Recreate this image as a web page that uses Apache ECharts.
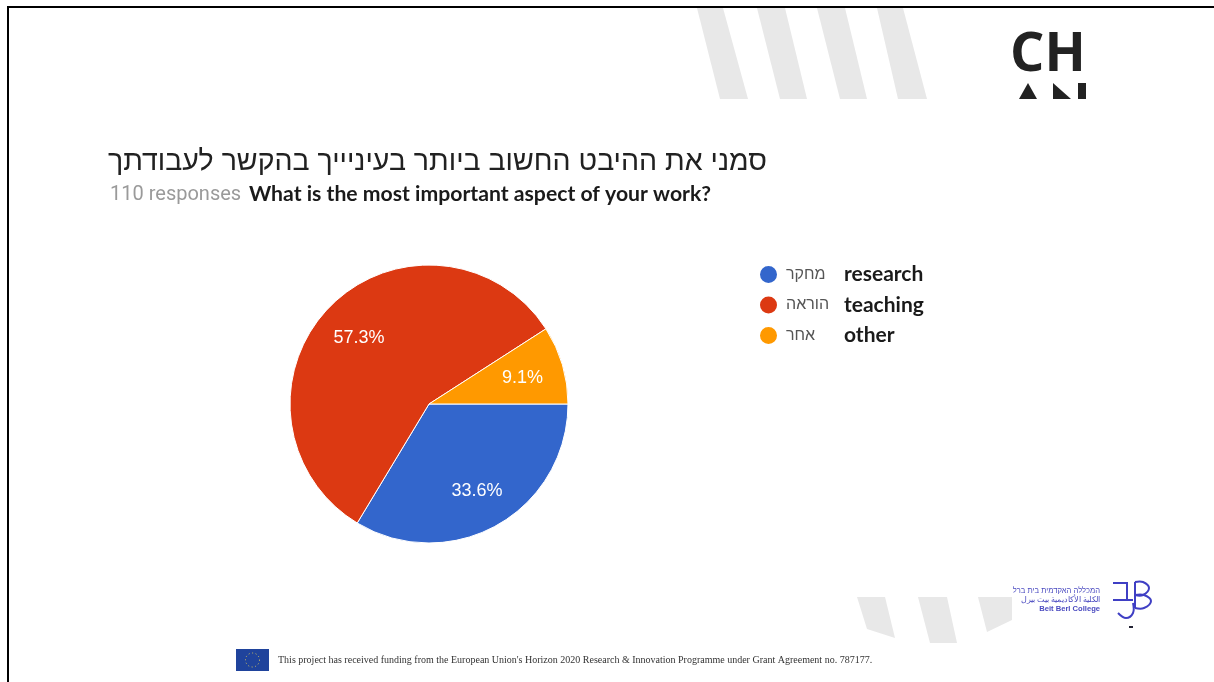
<!DOCTYPE html>
<html>
<head>
<meta charset="utf-8">
<style>html,body{margin:0;padding:0;background:#fff}#c{width:1214px;height:682px}</style>
<script src="https://cdn.jsdelivr.net/npm/echarts@6/dist/echarts.min.js"></script>
</head>
<body>
<div id="c"></div>
<script>
const categories = ['מחקר', 'הוראה', 'אחר'];
const englishNames = ['research', 'teaching', 'other'];
const values = [37, 63, 10];
const percentLabels = ['33.6%', '57.3%', '9.1%'];
const colors = ['#3366cc', '#dc3912', '#ff9900'];
const titleHe = 'סמני את ההיבט החשוב ביותר בעיניייך בהקשר לעבודתך';
const responses = '110 responses';
const titleEn = 'What is the most important aspect of your work?';
const footer = "This project has received funding from the European Union's Horizon 2020 Research & Innovation Programme under Grant Agreement no. 787177.";
const collegeLines = ['המכללה האקדמית בית ברל', 'الكلية الأكاديمية بيت بيرل', 'Beit Berl College'];

const stripes = [
  [[697,8],[723,8],[748,99],[720,99]],
  [[757,8],[785,8],[807,99],[780,99]],
  [[817,8],[845,8],[867,99],[840,99]],
  [[877,8],[903,8],[927,99],[898,99]],
  [[857,597],[885,597],[895,638],[867,629]],
  [[918,597],[947,597],[957,643],[930,643]],
  [[978,597],[1012,597],[1012,620],[987,632]]
];
const logoInk = '#3f3fc4';
const poly = (pts, fill) => ({type:'polygon', silent:true, shape:{points:pts}, style:{fill}});
const line = (pts, smooth) => ({type:'polyline', silent:true, shape:{points:pts, smooth:smooth||0}, style:{stroke:logoInk, lineWidth:2, fill:null}});
const text = (x, y, t, font, fill, align) => ({type:'text', silent:true, x, y, style:{text:t, font, fill, align:align||'left', verticalAlign:'middle'}});

const graphics = [
  ...stripes.map(s => poly(s, '#e8e8e8')),
  {type:'rect', silent:true, shape:{x:7,y:6,width:1207,height:2}, style:{fill:'#000'}},
  {type:'rect', silent:true, shape:{x:7,y:6,width:2,height:676}, style:{fill:'#000'}},
  text(1010, 56, 'CH', 'bold 54px "Open Sans"', '#222'),
  poly([[1028,83],[1037,99],[1019,99]], '#222'),
  poly([[1053,83],[1071,99],[1053,99]], '#222'),
  poly([[1078,83],[1086,83],[1086,99],[1078,99]], '#222'),
  ...collegeLines.map((t,i) => text(1100, 591+i*9, t, (i===2?'bold ':'')+'7.6px "Liberation Sans"', '#4a4ac0', 'right')),
  line([[1113,583],[1127,583],[1127,600]]),
  line([[1113,600],[1133,600]]),
  line([[1135,582],[1135,608]]),
  line([[1135,582],[1143,582],[1149,588],[1143,595],[1135,595]], 0.4),
  line([[1135,595],[1144,595],[1151,601],[1144,608],[1135,608]], 0.4),
  line([[1133,603],[1133,613],[1126,618],[1118,613]], 0.4),
  {type:'rect', silent:true, shape:{x:1129,y:626,width:4,height:2}, style:{fill:'#223'}},
  {type:'rect', silent:true, shape:{x:236,y:649,width:33,height:22}, style:{fill:'#1f439c'}},
  {type:'circle', silent:true, shape:{cx:252.5,cy:660,r:7}, style:{fill:null, stroke:'#d8c860', lineWidth:1, lineDash:[1,2.6]}},
  text(278, 660, footer, '10px "Liberation Serif"', '#333')
];

const chart = echarts.init(document.getElementById('c'), null, {renderer:'canvas'});
const pieData = categories.map((name,i) => ({name, value:values[i], itemStyle:{color:colors[i]}}));
chart.setOption({
  animation:false,
  graphic:graphics,
  title:[
    {text:titleHe, left:103, top:143, textStyle:{fontFamily:'Liberation Sans', fontSize:28.5, fontWeight:'normal', color:'#212121'}},
    {text:responses, left:105, top:180, textStyle:{fontFamily:'Roboto', fontSize:20, fontWeight:'normal', color:'#9a9a9a'}},
    {text:titleEn, left:244, top:179, textStyle:{fontFamily:'Lato', fontSize:21.2, fontWeight:'bold', color:'#1a1a1a'}}
  ],
  legend:{
    orient:'vertical', left:753, top:259, itemWidth:19, itemHeight:19, itemGap:9.5, icon:'circle',
    selectedMode:false, data:categories,
    formatter:n => { const i=categories.indexOf(n); return '{he|'+n+'}{en|'+englishNames[i]+'}'; },
    textStyle:{rich:{
      he:{width:46, align:'left', padding:[0,0,0,3], fontFamily:'Liberation Sans', fontSize:16, color:'#555'},
      en:{padding:[0,0,0,12], fontFamily:'Lato', fontSize:21, fontWeight:'bold', color:'#1a1a1a'}
    }}
  },
  series:[
    {type:'pie', center:[429,404], radius:[0,139], startAngle:0, clockwise:true, silent:true,
     data:pieData, label:{show:false}, labelLine:{show:false},
     itemStyle:{borderColor:'#fff', borderWidth:1}},
    {type:'pie', center:[429,404], radius:[50,139], startAngle:0, clockwise:true, silent:true,
     data:categories.map((name,i) => ({name, value:values[i], itemStyle:{color:'transparent'},
       label:{formatter:percentLabels[i]}})),
     label:{show:true, position:'inside', offset:[0,2], color:'#fff', fontFamily:'Liberation Sans', fontSize:18},
     labelLine:{show:false}}
  ]
});
</script>
</body>
</html>
